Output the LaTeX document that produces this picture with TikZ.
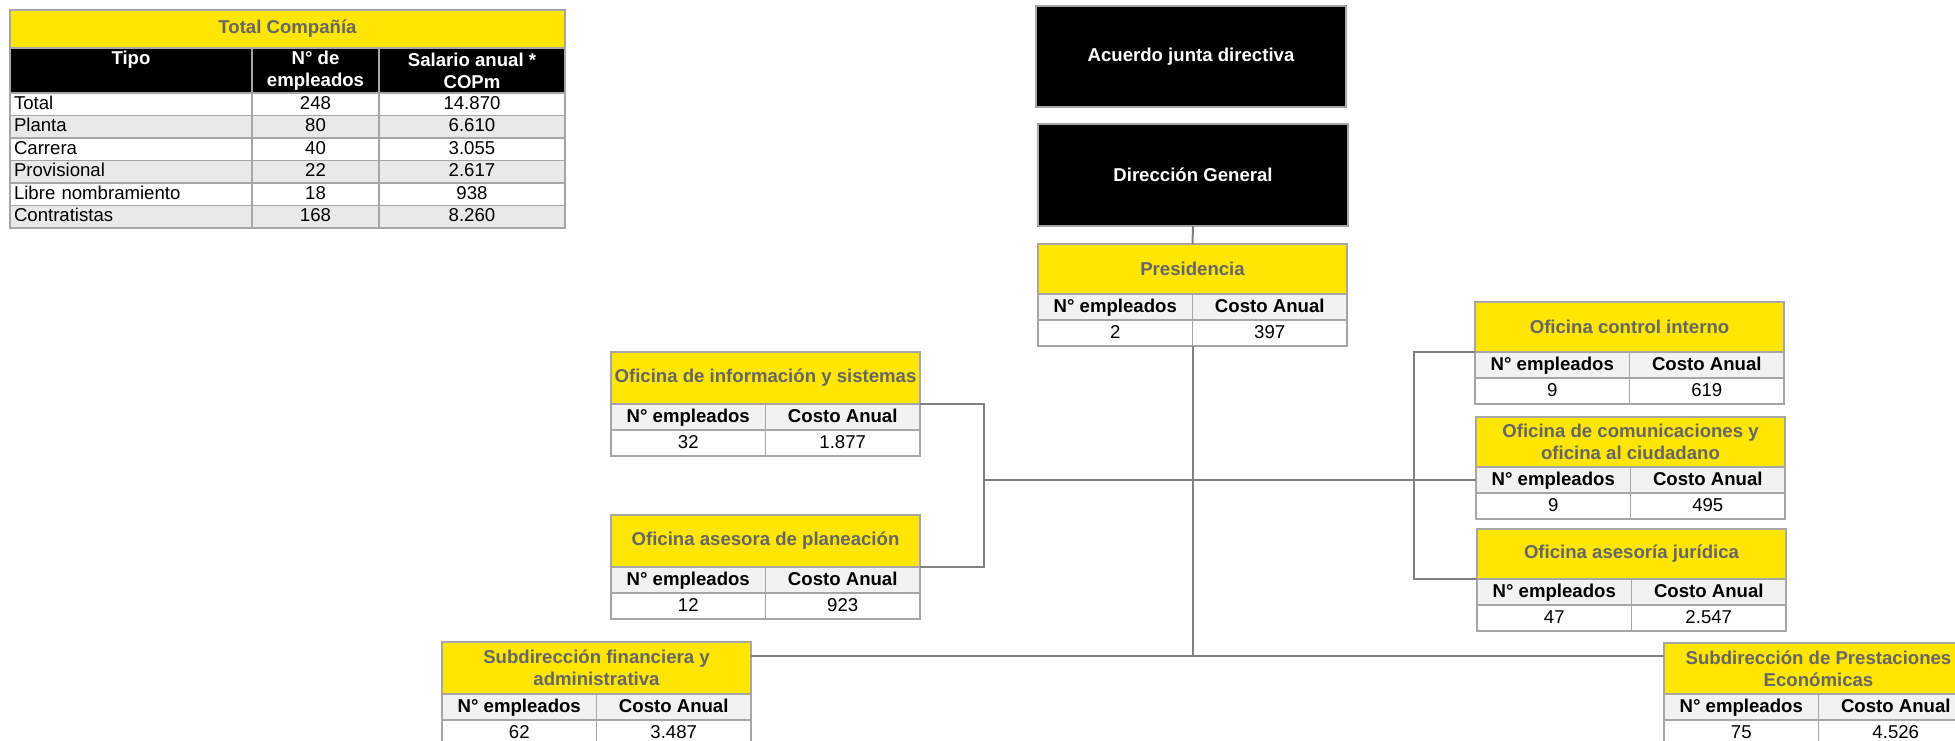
\documentclass[tikz,border=0pt]{standalone}
\usepackage{fontspec}
\setmainfont{Liberation Sans}
\usepackage{xcolor}
\usetikzlibrary{positioning}

\definecolor{eyyellow}{HTML}{FFE600}
\definecolor{titlegray}{HTML}{666666}
\definecolor{cellgray}{HTML}{F2F2F2}
\definecolor{rowgray}{HTML}{E9E9E9}
\definecolor{edgegray}{HTML}{A6A6A6}
\definecolor{linegray}{HTML}{808080}
\newcommand{\boxfont}{\fontsize{18.6}{22}\selectfont}
% one office: name, top left corner, title height, title, employees, cost
\newcommand{\orgunit}[6]{%
  \node[titlecell,minimum height=#3,anchor=north west] (#1) at (#2) {#4};
  \node[headcell,anchor=north west] (#1-n) at (#1.south west) {N° empleados};
  \node[headcell,right=0pt of #1-n] (#1-c) {Costo Anual};
  \node[valcell,below=0pt of #1-n] (#1-nv) {#5};
  \node[valcell,below=0pt of #1-c] (#1-cv) {#6};
}

\begin{document}
\begin{tikzpicture}[
    x=1pt,y=-1pt,
    every node/.style={font=\boxfont,inner sep=0pt,outer sep=0pt},
    tabtitle/.style={draw=edgegray,line width=1.5pt,fill=eyyellow,text=titlegray,font=\boxfont\bfseries,minimum width=555pt,minimum height=38pt},
    tabhead/.style={draw=edgegray,line width=1.5pt,fill=black,text=white,font=\boxfont\bfseries,align=center,minimum height=45pt},
    tabcell/.style={draw=edgegray,line width=1.5pt,minimum height=22.5pt,text height=13.5pt,text depth=3.5pt},
    board/.style={draw=edgegray,line width=1.5pt,fill=black,text=white,font=\boxfont\bfseries,minimum width=310pt},
    titlecell/.style={draw=edgegray,line width=1.5pt,fill=eyyellow,text=titlegray,font=\boxfont\bfseries,align=center,minimum width=309pt},
    headcell/.style={draw=edgegray,line width=1.5pt,fill=cellgray,font=\boxfont\bfseries,minimum width=154.5pt,minimum height=26pt,text height=13.5pt,text depth=3.5pt},
    valcell/.style={draw=edgegray,line width=1.5pt,fill=white,minimum width=154.5pt,minimum height=26pt,text height=13.5pt,text depth=3.5pt},
    conn/.style={draw=linegray,line width=2pt}
]
\useasboundingbox (0,0) rectangle (1955,741);

% company table
\node[tabtitle,anchor=north west] (tot) at (10,10) {Total Compañía};
\node[tabhead,minimum width=242pt,anchor=north west] (tipo) at (tot.south west) {Tipo\\\phantom{g}};
\node[tabhead,minimum width=127pt,right=0pt of tipo] (numemp) {N° de\\empleados};
\node[tabhead,minimum width=186pt,right=0pt of numemp] (salario) {Salario anual *\\COPm};
\foreach \tipo/\num/\sal/\bg [count=\k] in {Total/248/14.870/white,Planta/80/6.610/rowgray,Carrera/40/3.055/white,Provisional/22/2.617/rowgray,Libre nombramiento/18/938/white,Contratistas/168/8.260/rowgray}{
  \node[tabcell,fill=\bg,text width=234pt,inner xsep=4pt,align=left,anchor=north west] (tipo\k) at (10,{93+(\k-1)*22.5}) {\tipo};
  \node[tabcell,fill=\bg,minimum width=127pt,right=0pt of tipo\k] (num\k) {\num};
  \node[tabcell,fill=\bg,minimum width=186pt,right=0pt of num\k] (sal\k) {\sal};
}

% board and offices
\node[board,minimum height=101pt,anchor=north west] (junta) at (1036,6) {Acuerdo junta directiva};
\node[board,minimum height=102pt,anchor=north west] (dir) at (1038,124) {Dirección General};

\orgunit{pres}{1038,244}{50pt}{Presidencia}{2}{397}
\orgunit{info}{611,352}{52pt}{Oficina de información y sistemas}{32}{1.877}
\orgunit{plan}{611,515}{52pt}{Oficina asesora de planeación}{12}{923}
\orgunit{ctrl}{1475,302}{50pt}{Oficina control interno}{9}{619}
\orgunit{comun}{1476,417}{50pt}{Oficina de comunicaciones y\\oficina al ciudadano}{9}{495}
\orgunit{jur}{1477,529}{50pt}{Oficina asesoría jurídica}{47}{2.547}
\orgunit{fin}{442,642}{52pt}{Subdirección financiera y\\administrativa}{62}{3.487}
\orgunit{prest}{1664,643}{51pt}{Subdirección de Prestaciones\\Económicas}{75}{4.526}

\coordinate (lbrk) at (984,480);
\coordinate (rbrk) at (1414,480);
\coordinate (base) at (1192.5,656);

\draw[conn] (dir.south) -- (pres.north);
\draw[conn] (pres-nv.south east) -- (base);
\draw[conn] (info.south east) -| (lbrk) |- (plan.south east);
\draw[conn] (lbrk) -- (rbrk);
\draw[conn] (ctrl.south west) -| (rbrk) |- (jur.south west);
\draw[conn] (rbrk) -- (comun-n.west);
\draw[conn] (fin.east |- base) -- (prest.west |- base);
\end{tikzpicture}
\end{document}
